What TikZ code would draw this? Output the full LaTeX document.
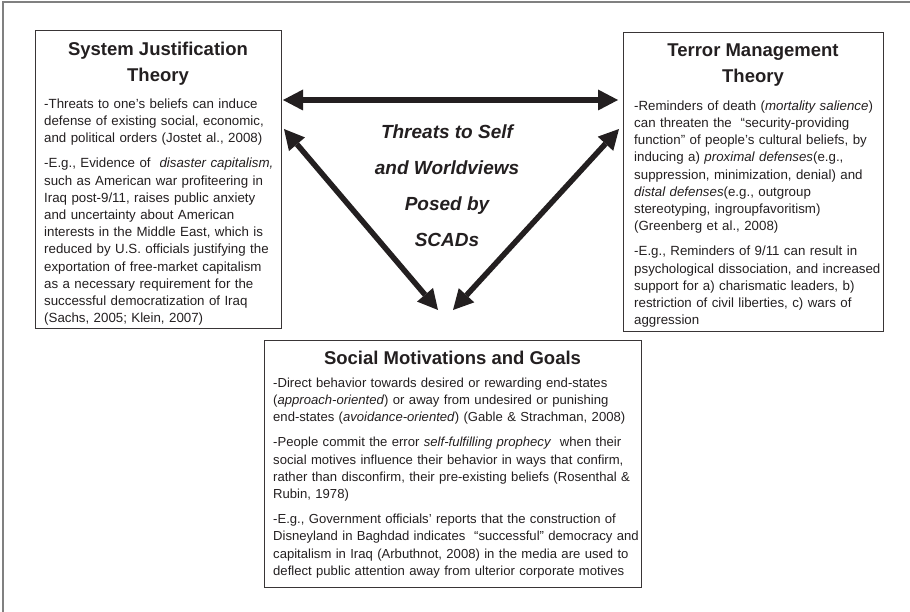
\documentclass[tikz,border=0pt]{standalone}
\usepackage{fontspec}
\setmainfont{Liberation Sans}
\usetikzlibrary{arrows.meta}
\definecolor{ink}{RGB}{35,31,32}
\definecolor{framegray}{RGB}{128,128,128}
\begin{document}
\begin{tikzpicture}[x=1pt,y=-1pt,
  boxst/.style={draw=ink!90, line width=0.9pt, inner sep=0pt},
  titlest/.style={anchor=north, inner sep=0pt, align=center, text=ink,
    font=\fontsize{18.5}{26}\selectfont\bfseries},
  bodyst/.style={anchor=north west, inner sep=0pt, align=left, text=ink,
    text width=400pt, font=\fontsize{13.3}{17.2}\selectfont},
  centerst/.style={anchor=north, inner sep=0pt, align=center, text=ink,
    font=\fontsize{19}{36}\selectfont\bfseries\itshape},
  bigarrow/.style={line width=5.5pt, draw=ink,
    {Triangle[length=20pt,width=21pt,line width=0pt]}-{Triangle[length=20pt,width=21pt,line width=0pt]}}
]
\useasboundingbox (0,0) rectangle (910,612);
% outer frame (top and left only)
\draw[framegray, line width=1.3pt] (3,612) -- (3,2) -- (910,2);

% boxes
\node[boxst, minimum width=246pt, minimum height=298pt] (sjt) at (158,179) {};
\node[boxst, minimum width=260pt, minimum height=299pt] (tmt) at (753,181.5) {};
\node[boxst, minimum width=377pt, minimum height=247pt] (smg) at (452.5,463.5) {};

% titles
\node[titlest] (sjtT) at (158,36.8) {\strut System Justification\\\strut Theory};
\node[titlest] (tmtT) at (753,37.8) {\strut Terror Management\\\strut Theory};
\node[titlest] (smgT) at (452.5,345.8) {\strut Social Motivations and Goals};

% bodies
\node[bodyst] (sjtB) at (44,96) {\strut -Threats to one’s beliefs can induce\\
defense of existing social, economic,\\
and political orders (Jostet al., 2008)\\[8pt]
-E.g., Evidence of\ \ \textit{disaster capitalism,}\\
such as American war profiteering in\\
Iraq post-9/11, raises public anxiety\\
and uncertainty about American\\
interests in the Middle East, which is\\
reduced by U.S. officials justifying the\\
exportation of free-market capitalism\\
as a necessary requirement for the\\
successful democratization of Iraq\\
(Sachs, 2005; Klein, 2007)};

\node[bodyst] (tmtB) at (634,98) {\strut -Reminders of death (\textit{mortality salience})\\
can threaten the\ \ “security-providing\\
function” of people’s cultural beliefs, by\\
inducing a) \textit{proximal defenses}(e.g.,\\
suppression, minimization, denial) and\\
\textit{distal defenses}(e.g., outgroup\\
stereotyping, ingroupfavoritism)\\
(Greenberg et al., 2008)\\[8pt]
-E.g., Reminders of 9/11 can result in\\
psychological dissociation, and increased\\
support for a) charismatic leaders, b)\\
restriction of civil liberties, c) wars of\\
aggression};

\node[bodyst, font=\fontsize{13.1}{17.2}\selectfont] (smgB) at (273,375) {\strut -Direct behavior towards desired or rewarding end-states\\
(\textit{approach-oriented}) or away from undesired or punishing\\
end-states (\textit{avoidance-oriented}) (Gable \& Strachman, 2008)\\[8pt]
-People commit the error \textit{self-fulfilling prophecy}\ \ when their\\
social motives influence their behavior in ways that confirm,\\
rather than disconfirm, their pre-existing beliefs (Rosenthal \&\\
Rubin, 1978)\\[8pt]
-E.g., Government officials’ reports that the construction of\\
Disneyland in Baghdad indicates\ \ “successful” democracy and\\
capitalism in Iraq (Arbuthnot, 2008) in the media are used to\\
deflect public attention away from ulterior corporate motives};

% center text
\node[centerst] (threat) at (447,113.3) {\strut Threats to Self\\\strut and Worldviews\\\strut Posed by\\\strut SCADs};

% arrows
\coordinate (hL) at (283,100);
\coordinate (hR) at (618,100);
\coordinate (dLt) at (284,129);
\coordinate (dLb) at (438,310);
\coordinate (dRt) at (619,129);
\coordinate (dRb) at (453,310);
\draw[bigarrow] (hL) -- (hR);
\draw[bigarrow] (dLt) -- (dLb);
\draw[bigarrow] (dRt) -- (dRb);
\end{tikzpicture}
\end{document}
